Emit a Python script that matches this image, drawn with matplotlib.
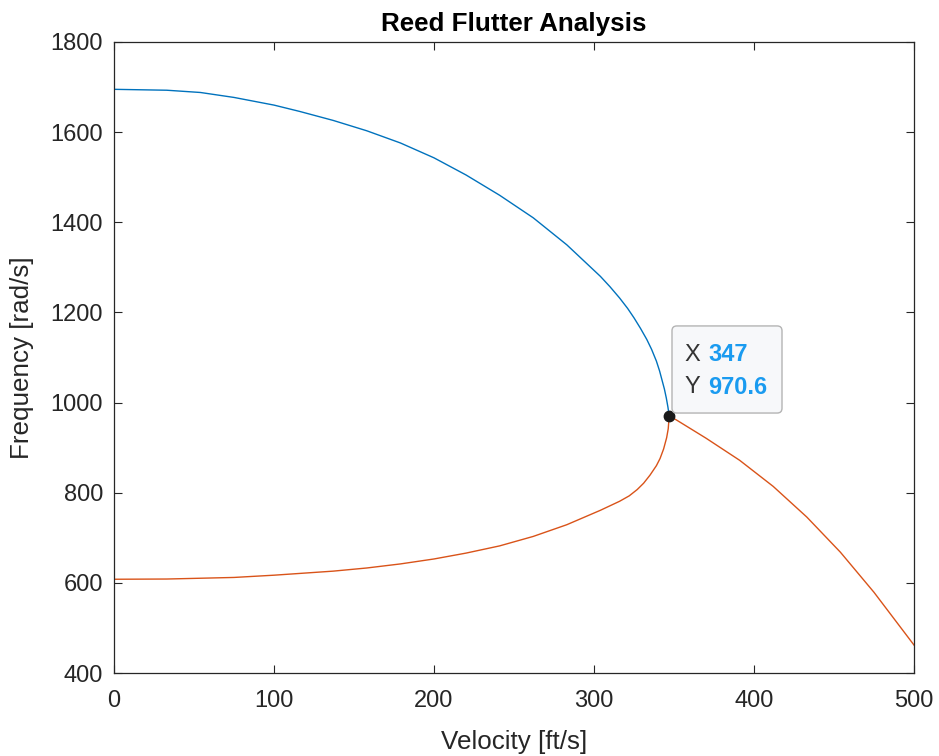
import matplotlib
matplotlib.use("Agg")
import matplotlib.pyplot as plt
from matplotlib.patches import FancyBboxPatch

plt.rcParams['font.family'] = ['Liberation Sans', 'DejaVu Sans']

# Mode 1 (upper branch, blue) up to flutter point
v_upper = [0, 33, 54, 75, 100, 116, 137, 158, 179, 200, 220, 241, 262, 283, 304,
           310, 316, 321, 325, 329, 333, 336, 339, 341, 342.5, 344, 345.2, 346.2, 347]
f_upper = [1695, 1693, 1688, 1677, 1660, 1646, 1626, 1603, 1576, 1543, 1505, 1460,
           1410, 1350, 1280, 1257, 1232, 1209, 1188, 1165, 1140, 1118, 1092, 1070,
           1050, 1030, 1010, 990, 970.6]

# Mode 2 (lower branch, orange) up to flutter point
v_lower = [0, 33, 75, 100, 137, 158, 179, 200, 220, 241, 262, 283, 304, 316, 322,
           327, 331, 335, 339, 341.3, 343.5, 345.4, 346.4, 347]
f_lower = [608, 608.5, 612, 617, 626, 633, 642, 653, 666, 682, 703, 729, 761, 781,
           793, 807, 821, 839, 860, 876, 897, 922, 942, 970.6]

# Post-flutter branch (orange)
v_post = [347, 351.7, 370, 391, 412, 433, 454, 475, 500]
f_post = [970.6, 961, 921, 872, 814, 746, 668, 579, 462]

flutter_v = 347
flutter_f = 970.6

blue = '#0072BD'
orange = '#D95319'
dark = '#262626'

fig = plt.figure(figsize=(9.39, 7.56), dpi=100)
ax = fig.add_axes([114/939, 1-673/756, 800/939, 631/756])

ax.plot(v_upper, f_upper, color=blue, lw=1.0)
ax.plot(v_lower, f_lower, color=orange, lw=1.0)
ax.plot(v_post, f_post, color=orange, lw=1.0)
ax.plot([flutter_v], [flutter_f], 'o', color='#1a1a1a', ms=7.5, zorder=5)

ax.set_xlim(0, 500)
ax.set_ylim(400, 1800)
ax.set_xticks([0, 100, 200, 300, 400, 500])
ax.set_yticks([400, 600, 800, 1000, 1200, 1400, 1600, 1800])
ax.tick_params(direction='in', top=True, right=True, length=6, width=0.8,
               colors=dark, labelsize=17)
ax.tick_params(axis='x', pad=12)
ax.tick_params(axis='y', pad=8)
for s in ax.spines.values():
    s.set_color(dark)
    s.set_linewidth(0.9)

ax.set_xlabel('Velocity [ft/s]', fontsize=18.7, color=dark, labelpad=13)
ax.set_ylabel('Frequency [rad/s]', fontsize=18.7, color=dark, labelpad=12)
ax.set_title('Reed Flutter Analysis', fontsize=18.7, fontweight='bold', color='black', pad=8)

# Data tip
box = FancyBboxPatch((0.6975, 0.412), 0.1375, 0.138,
                     boxstyle='round,pad=0,rounding_size=0.006',
                     mutation_aspect=800/631,
                     transform=ax.transAxes, facecolor='#f7f8fa',
                     edgecolor='#b4b4b4', lw=1.0, zorder=6)
ax.add_patch(box)
tip_blue = '#1a9bf0'
ax.text(0.7125, 0.504, 'X', transform=ax.transAxes, fontsize=17, color='#333333',
        va='center', ha='left', zorder=7)
ax.text(0.7425, 0.504, f'{flutter_v}', transform=ax.transAxes, fontsize=17,
        color=tip_blue, fontweight='bold', va='center', ha='left', zorder=7)
ax.text(0.7125, 0.453, 'Y', transform=ax.transAxes, fontsize=17, color='#333333',
        va='center', ha='left', zorder=7)
ax.text(0.7425, 0.453, f'{flutter_f}', transform=ax.transAxes, fontsize=17,
        color=tip_blue, fontweight='bold', va='center', ha='left', zorder=7)

fig.savefig('out.png', dpi=100)
